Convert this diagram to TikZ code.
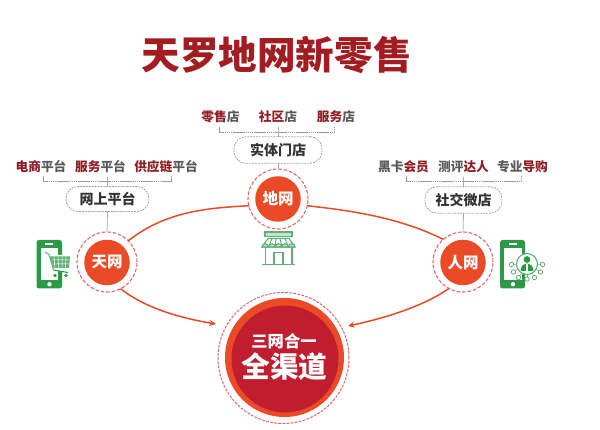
\documentclass[tikz,border=0pt]{standalone}
\usepackage{fontspec}
\setmainfont{Noto Sans CJK SC}
\usetikzlibrary{arrows.meta}
\definecolor{titlered}{HTML}{A11D22}
\definecolor{darkred}{HTML}{8F1D26}
\definecolor{graytxt}{HTML}{5A5A5A}
\definecolor{darktxt}{HTML}{333333}
\definecolor{orangered}{HTML}{EB4A26}
\definecolor{crimson}{HTML}{C01E2E}
\definecolor{ringred}{HTML}{E0696B}
\definecolor{iconG}{HTML}{2A9A44}
\definecolor{iconL}{HTML}{5FAF77}
\newcommand{\rt}[1]{\textcolor{darkred}{#1}}
\newcommand{\gt}[1]{\textcolor{graytxt}{#1}}
\tikzset{
  ring/.style={circle,draw=ringred,dash pattern=on 3.6pt off 1.8pt,line width=1.1pt,fill=white,minimum size=60pt,inner sep=0pt,outer sep=0pt},
  disc/.style={circle,fill=orangered,minimum size=45.5pt,inner sep=0pt,text=white,font=\bfseries\fontsize{15.5}{16}\selectfont},
  pill/.style={draw=gray!75,dash pattern=on 1.8pt off 1.1pt,line width=.8pt,rounded corners=12pt,fill=white,text=darktxt,font=\bfseries\fontsize{14}{15}\selectfont,inner sep=0pt,outer sep=0pt},
  lab/.style={font=\bfseries\fontsize{12.7}{13}\selectfont,inner sep=0pt},
  brk/.style={draw=gray!80,line width=.7pt,dash pattern=on 1.6pt off .5pt},
  stem/.style={draw=gray!65,line width=.8pt},
  arc/.style={draw=orangered,line width=1.5pt},
  arw/.style={arc,-{Stealth[length=6.5pt,width=6pt]}},
  gline/.style={draw=iconL,line width=1.1pt},
}
\begin{document}
\begin{tikzpicture}[x=1pt,y=-1pt]
\useasboundingbox (0,0) rectangle (600,430);
\node[inner sep=0pt,text=titlered,font=\bfseries\fontsize{38.6}{40}\selectfont] (title) at (276.5,55) {天罗地网新零售};

% top labels
\node[lab] (s1) at (220.5,117) {\rt{零售}\gt{店}};
\node[lab] (s2) at (278,117) {\rt{社区}\gt{店}};
\node[lab] (s3) at (336,117) {\rt{服务}\gt{店}};
\node[lab] (w1) at (41,167) {\rt{电商}\gt{平台}};
\node[lab] (w2) at (100.5,167) {\rt{服务}\gt{平台}};
\node[lab] (w3) at (166,167) {\rt{供应链}\gt{平台}};
\node[lab] (r1) at (403.5,167) {\gt{黑卡}\rt{会员}};
\node[lab] (r2) at (463.5,167) {\gt{测评}\rt{达人}};
\node[lab] (r3) at (522.5,167) {\gt{专业}\rt{导购}};

% pills
\node[pill,minimum width=88pt,minimum height=26.5pt] (pd) at (278,150) {实体门店};
\node[pill,minimum width=83pt,minimum height=25pt] (pt) at (107.5,199) {网上平台};
\node[pill,minimum width=77pt,minimum height=26.5pt] (pr) at (463.5,200) {社交微店};

% rings
\node[ring] (tr) at (107,262) {};
\node[ring] (dr) at (278,199) {};
\node[ring] (rr) at (463,262) {};
\node[disc] (t) at (107,262.5) {天网};
\node[disc] (d) at (278,199) {地网};
\node[disc] (r) at (463,262.5) {人网};

% brackets and stems
\coordinate (bdl) at (219,127); \coordinate (bdr) at (334,127); \coordinate (bdc) at (278,132);
\coordinate (btl) at (43,176);  \coordinate (btr) at (171,176); \coordinate (btc) at (107.5,181);
\coordinate (brl) at (406,176); \coordinate (brr) at (521,176); \coordinate (brc) at (463.5,181);
\draw[brk] (bdl) |- (bdc) -| (bdr);
\draw[brk] (btl) |- (btc) -| (btr);
\draw[brk] (brl) |- (brc) -| (brr);
\draw[stem] (bdc) ++(0,-5) -- (pd.north);
\draw[stem] (btc) ++(0,-4) -- (pt.north);
\draw[stem] (brc) ++(0,-4) -- (pr.north);
\draw[stem] (pd.south) -- (dr.north);
\draw[stem] (pt.south) -- (tr.north);
\draw[stem] (pr.south) -- (rr.north);

% big circle
\node[circle,draw=ringred,dash pattern=on 2.8pt off 1.3pt,line width=1pt,fill=white,minimum size=131pt,inner sep=0pt,outer sep=0pt] (bigr) at (283.5,358) {};
\node[circle,fill=orangered,minimum size=119pt,inner sep=0pt] (bigo) at (284.5,357.5) {};
\node[circle,fill=crimson,minimum size=107pt,inner sep=0pt] (bigc) at (285,359) {};
\node[inner sep=0pt,text=white,font=\bfseries\fontsize{16.3}{17}\selectfont] (b1) at (284,341) {三网合一};
\node[inner sep=0pt,text=white,font=\bfseries\fontsize{28.7}{30}\selectfont] (b2) at (284.5,367) {全渠道};

% connectors
\coordinate (tipL) at (216,324);
\coordinate (tipR) at (348,326);
\draw[arc] (tr.45) .. controls (165,212) and (205,208) .. (dr.193);
\draw[arc] (rr.131) .. controls (400,218) and (355,211) .. (dr.-13);
\draw[arw] (tr.-63) .. controls (145,308) and (180,318) .. (tipL);
\draw[arw] (rr.-118) .. controls (425,305) and (390,317) .. (tipR);

% left phone with cart
\fill[iconG,rounded corners=2.5pt] (36.5,240) rectangle (62,288.5);
\fill[white] (40.5,248) rectangle (58,280);
\fill[white] (45,243.2) rectangle (53,244.8);
\fill[white] (49.5,284.3) circle (2.2pt);
\fill[white] (46,255) -- (71,255) -- (70,271) -- (53,271) -- cycle;
\draw[iconL,line width=1pt] (45,252) -- (49,254.5) -- (53.5,270);
\fill[iconL] (50,256.5) -- (70,256.5) -- (69,268) -- (53.5,268) -- cycle;
\draw[white,line width=.5pt] (54,256.5) -- (55,268) (58,256.5) -- (58.5,268) (62,256.5) -- (62,268) (66,256.5) -- (65.5,268) (51.5,260) -- (70,260) (52.5,264) -- (69.5,264);
\draw[iconG,line width=1.1pt] (53.5,270) -- (68,272.5);
\fill[iconG] (55,275.5) circle (1.9pt) (66,275.5) circle (1.9pt);

% shop
\draw[gline] (265.5,247) -- (265.5,264) (292,247) -- (292,264);
\draw[gline,fill=iconL!35] (265,232) rectangle (292,236.5);
\draw[gline,line join=round,fill=white] (268,238.5) -- (289,238.5) -- (295,247) -- (262,247) -- cycle;
\foreach \a/\b in {272/268.6,276/275.2,280/281.8,285/288.4} \draw[gline,line width=.9pt] (\a,238.5) -- (\b,247);
\foreach \b in {262,268.6,275.2,281.8,288.4} \draw[gline,fill=iconL!40] (\b,247) arc[start angle=180,end angle=360,radius=3.3] -- cycle;
\draw[gline] (274,264) -- (274,252.5) -- (283,252.5) -- (283,264);
\draw[gline,line width=1.7pt] (262,264.5) -- (295,264.5);

% right phone with network
\fill[iconG,rounded corners=2.5pt] (500,240) rectangle (525,288.5);
\fill[white] (504,248) rectangle (522,280);
\fill[white] (508.5,243.2) rectangle (516.5,244.8);
\fill[white] (513,284.3) circle (2.2pt);
\foreach \x/\y in {511.5/264.5,513.5/272,518.5/277.5,527/279,534.5/277.5,540.5/272,542.5/264.5}
  \draw[gline,line width=.5pt] (527,264) -- (\x,\y);
\draw[gline,fill=white] (527,264) circle (10.5pt);
\fill[iconG] (527,259.5) circle (3.4pt);
\fill[iconG] (520.5,271) .. controls (521,265) and (524,263.5) .. (527,263.5) .. controls (530,263.5) and (533,265) .. (533.5,271) -- cycle;
\fill[white] (526.4,264) -- (527.6,264) -- (527.6,271) -- (526.4,271) -- cycle;
\foreach \x/\y in {511.5/264.5,513.5/272,518.5/277.5,527/279,534.5/277.5,540.5/272,542.5/264.5}
  \draw[gline,line width=.8pt,fill=white] (\x,\y) circle (2.2pt);
\end{tikzpicture}
\end{document}
